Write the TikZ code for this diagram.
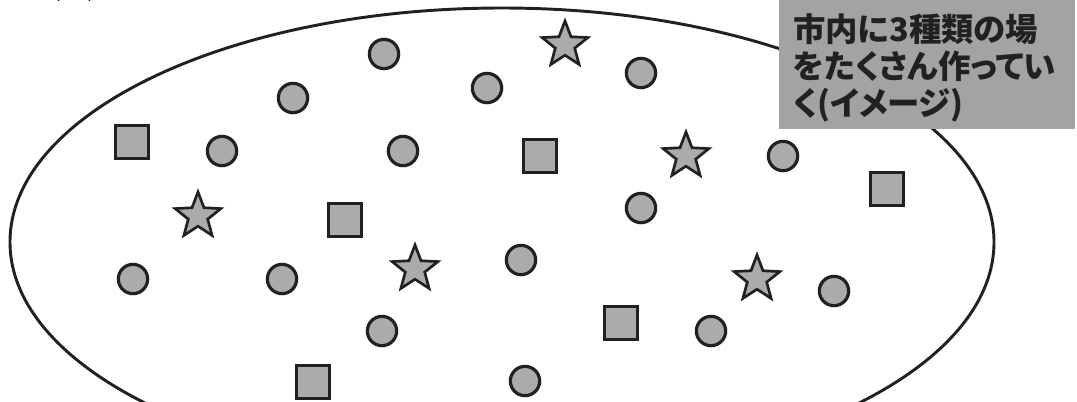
\documentclass[tikz,border=0pt]{standalone}
\usepackage{fontspec}
\newfontfamily\jpfont{Noto Sans CJK JP}[RawFeature=+palt]
\usetikzlibrary{shapes.geometric}
\definecolor{shapegray}{gray}{0.67}
\definecolor{boxgray}{gray}{0.64}
\definecolor{inkcolor}{gray}{0.13}

\begin{document}
\begin{tikzpicture}[
  x=0.75pt,y=-0.75pt,
  place/.style={draw=inkcolor,fill=shapegray,line width=2.4pt,inner sep=0pt},
  dot/.style={place,circle,minimum size=22pt},
  sq/.style={place,rectangle,minimum size=25pt},
  starmark/.style={place,star,star points=5,star point ratio=2.35,minimum size=36pt,line width=2pt},
  note/.style={font=\jpfont\bfseries\fontsize{24.3pt}{28pt}\selectfont,text=inkcolor,align=left,inner sep=0pt}
]
\useasboundingbox (0,0) rectangle (1077,401);
\clip (0,0) rectangle (1077,401);
% the city
\draw[inkcolor,line width=2.2pt] (502,242) ellipse [x radius=492,y radius=234];
% circles
\node[dot] (c1) at (384,54) {};
\node[dot] (c2) at (293,98) {};
\node[dot] (c3) at (487,88) {};
\node[dot] (c4) at (641,73) {};
\node[dot] (c5) at (222,151) {};
\node[dot] (c6) at (403,151) {};
\node[dot] (c7) at (783,156) {};
\node[dot] (c8) at (641,208) {};
\node[dot] (c9) at (521,260) {};
\node[dot] (c10) at (133,279) {};
\node[dot] (c11) at (282,279) {};
\node[dot] (c12) at (382,331) {};
\node[dot] (c13) at (711,331) {};
\node[dot] (c14) at (834,291) {};
\node[dot] (c15) at (525,381) {};
% squares
\node[sq] (s1) at (132,142) {};
\node[sq] (s2) at (540,156) {};
\node[sq] (s3) at (345,220) {};
\node[sq] (s4) at (887,189) {};
\node[sq] (s5) at (621,323) {};
\node[sq] (s6) at (313,382) {};
% stars
\node[starmark] (t0) at (74,-21) {};
\node[starmark] (t1) at (565,45) {};
\node[starmark] (t2) at (686,156) {};
\node[starmark] (t3) at (198,216) {};
\node[starmark] (t4) at (415,269) {};
\node[starmark] (t5) at (757,279) {};
% caption box
\fill[boxgray] (779,-10) rectangle (1075,129);
\node[note,anchor=west] (caption) at (793,68) {市内に3種類の場\\をたくさん作ってい\\く(イメージ)};
\end{tikzpicture}
\end{document}
